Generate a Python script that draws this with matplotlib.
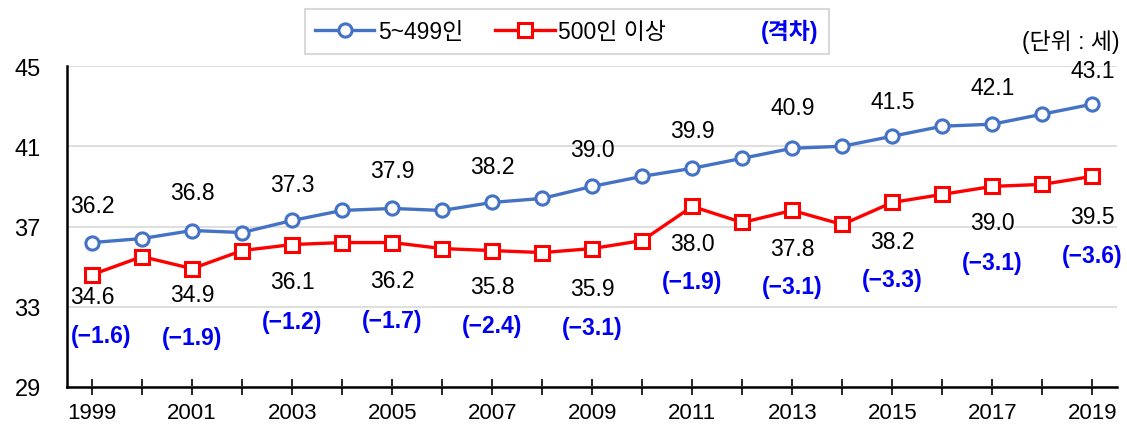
import matplotlib
matplotlib.use("Agg")
import matplotlib.pyplot as plt
from matplotlib.lines import Line2D

plt.rcParams['font.family'] = ['Liberation Sans', 'Noto Sans CJK KR', 'DejaVu Sans']

years = list(range(1999, 2020))
small = [36.2, 36.4, 36.8, 36.7, 37.3, 37.8, 37.9, 37.8, 38.2, 38.4, 39.0,
         39.5, 39.9, 40.4, 40.9, 41.0, 41.5, 42.0, 42.1, 42.6, 43.1]
large = [34.6, 35.5, 34.9, 35.8, 36.1, 36.2, 36.2, 35.9, 35.8, 35.7, 35.9,
         36.3, 38.0, 37.2, 37.8, 37.1, 38.2, 38.6, 39.0, 39.1, 39.5]
label_years = list(range(1999, 2020, 2))
gap_labels = ['(−1.6)', '(−1.9)', '(−1.2)', '(−1.7)', '(−2.4)', '(−3.1)',
              '(−1.9)', '(−3.1)', '(−3.3)', '(−3.1)', '(−3.6)']

# label offsets in pixels (above blue, below red)
blue_off = [37, 38, 36, 38, 36, 37, 38, 41, 35, 37, 34]
red_off = [22, 26, 37, 38, 36, 40, 37, 38, 39, 36, 40]
gap_off = [61, 69, 77, 78, 75, 79, 75, 76, 77, 76, 79]
gap_dx = [9, 0, 0, 0, 0, 0, 0, 0, 0, 0, 0]

blue = '#4472C4'
red = '#FF0000'
gapc = '#0000F0'
fs = 16.5

fig = plt.figure(figsize=(11.27, 4.31), dpi=100)
ax = fig.add_axes([0.0595, 0.0998, 0.932, 0.7447])

ax.plot(years, small, color=blue, lw=2.4, marker='o', ms=9.5, mfc='white',
        mec=blue, mew=2.2, zorder=3)
ax.plot(years, large, color=red, lw=2.4, marker='s', ms=9.5, mfc='white',
        mec=red, mew=2.2, zorder=3)

for i, yr in enumerate(label_years):
    k = years.index(yr)
    ax.annotate(f'{small[k]:.1f}', (yr, small[k]), xytext=(0, blue_off[i]),
                textcoords='offset pixels', ha='center', va='center', fontsize=fs)
    ax.annotate(f'{large[k]:.1f}', (yr, large[k]), xytext=(0, -red_off[i]),
                textcoords='offset pixels', ha='center', va='center', fontsize=fs)
    ax.annotate(gap_labels[i], (yr, large[k]), xytext=(gap_dx[i], -gap_off[i]),
                textcoords='offset pixels', ha='center', va='center', fontsize=fs,
                color=gapc, fontweight='bold')

ax.set_xlim(1998.5, 2019.5)
ax.set_ylim(29, 45)
ax.set_yticks([29, 33, 37, 41, 45])
ax.set_xticks(years)
ax.set_xticklabels([str(y) if y % 2 == 1 else '' for y in years])
ax.tick_params(axis='x', direction='inout', length=11, width=1.2, labelsize=16, pad=5)
ax.tick_params(axis='y', length=0, labelsize=17, pad=19)
ax.grid(axis='y', color='#D9D9D9', lw=1.2)
ax.set_axisbelow(True)
for s in ['top', 'right']:
    ax.spines[s].set_visible(False)
for s in ['left', 'bottom']:
    ax.spines[s].set_linewidth(1.8)

handles = [
    Line2D([], [], color=blue, lw=2.4, marker='o', ms=9.5, mfc='white', mec=blue, mew=2.2),
    Line2D([], [], color=red, lw=2.4, marker='s', ms=9.5, mfc='white', mec=red, mew=2.2),
    Line2D([], [], color='none'),
]
leg = fig.legend(handles, ['5~499인', '500인 이상', '(격차)'], loc='center',
                 bbox_to_anchor=(0.503, 0.925), ncol=3, fontsize=fs, frameon=True,
                 fancybox=False, edgecolor='#D0D0D0', handlelength=2.6,
                 columnspacing=1.4, handletextpad=0.15, borderpad=0.45)
leg.get_frame().set_linewidth(1.5)
t = leg.get_texts()[2]
t.set_color(gapc)
t.set_fontweight('bold')

fig.text(0.993, 0.902, '(단위 : 세)', ha='right', va='center', fontsize=fs)

fig.savefig('out.png', dpi=100)
